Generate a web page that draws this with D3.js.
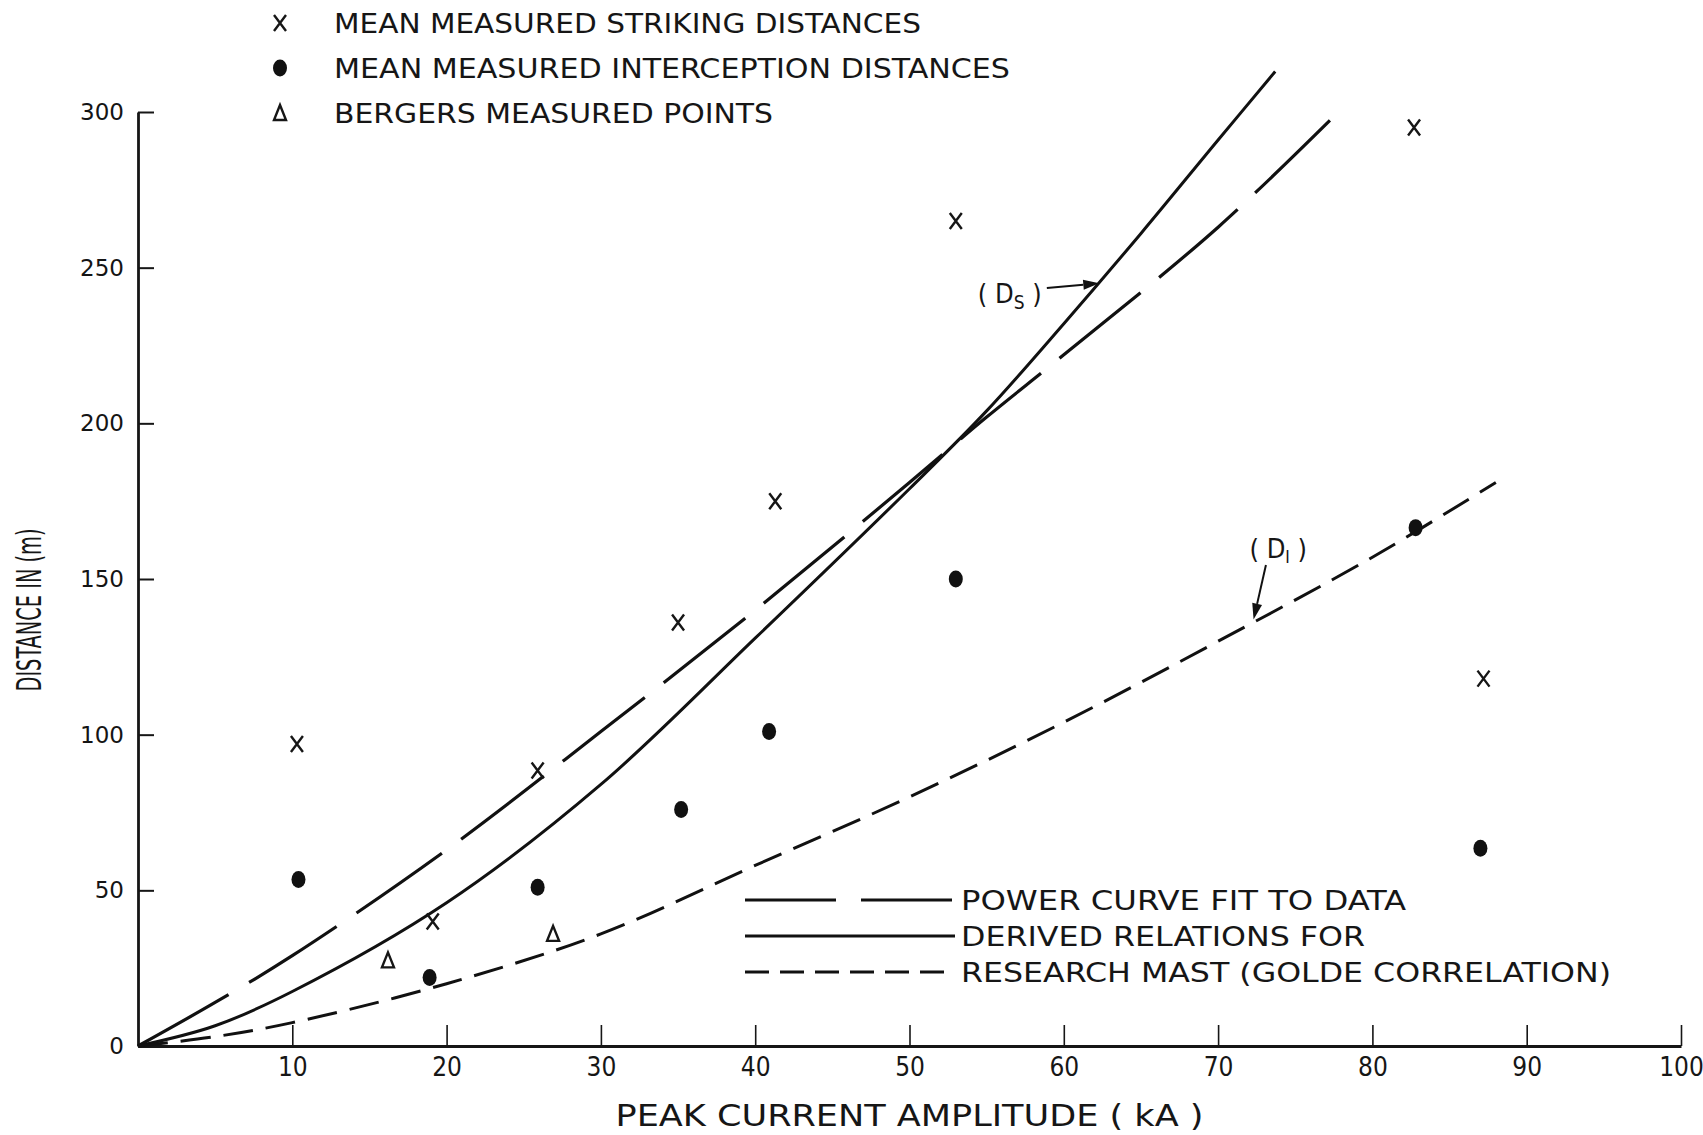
<!DOCTYPE html>
<html>
<head>
<meta charset="utf-8">
<script src="https://cdn.jsdelivr.net/npm/d3@7"></script>
<style>
  body { margin: 0; background: #fff; }
  svg { display: block; background: #fff; }
  .letter { font-family: "DejaVu Sans Condensed", "Liberation Sans Narrow", "DejaVu Sans", sans-serif; fill: #161616; }
  .axis path, .axis line { stroke: #161616; }
</style>
</head>
<body>
<svg width="1703" height="1135"></svg>
<script>
// tick values
var xTicks = [10, 20, 30, 40, 50, 60, 70, 80, 90, 100];
var yTicks = [0, 50, 100, 150, 200, 250, 300];

// mean measured striking distances (x)
var strikeKA = [10.3, 19.1, 25.9, 35.0, 41.3, 53.0, 82.7, 87.2];
var strikeM  = [97, 40, 88.5, 136, 175, 265, 295, 118];

// mean measured interception distances (dots)
var interKA = [10.4, 18.9, 25.9, 35.2, 40.9, 53.0, 82.8, 87.0];
var interM  = [53.5, 22, 51, 76, 101, 150, 166.5, 63.5];

// Bergers measured points (triangles)
var bergerKA = [16.2, 26.9];
var bergerM  = [27.5, 36];

// power curve fit to data (long dash)
var fitKA = [0, 5, 10, 20, 30, 40, 50, 55, 60, 70, 78];
var fitM  = [0, 14, 29, 63, 101, 140, 181, 202, 222, 263, 301];

// derived relation Ds (solid)
var dsKA = [0, 5, 10, 20, 30, 40, 50, 55, 60, 65, 70, 73.7];
var dsM  = [0, 6.5, 17.5, 46, 84, 131, 179, 204, 232, 261, 291, 313];

// research mast, Golde correlation DI (short dash)
var diKA = [0, 5, 10, 20, 30, 40, 50, 60, 70, 80, 88];
var diM  = [0, 3, 7.5, 20, 36, 58, 80, 104, 130, 157, 181];

var svg = d3.select("svg"),
    margin = {top: 112, right: 22, bottom: 89, left: 138},
    width = +svg.attr("width") - margin.left - margin.right,
    height = +svg.attr("height") - margin.top - margin.bottom;

var x = d3.scaleLinear().domain([0, 100]).range([0, width]),
    y = d3.scaleLinear().domain([0, 300]).range([height, 0]);

var g = svg.append("g")
    .attr("transform", "translate(" + margin.left + "," + margin.top + ")");

function pts(a, b) { return a.map(function(v, i) { return [v, b[i]]; }); }

// axes
var yAxis = g.append("g")
    .attr("class", "axis")
    .call(d3.axisLeft(y).tickValues(yTicks).tickSizeInner(-16).tickSizeOuter(0).tickPadding(14));
yAxis.select(".domain").attr("stroke-width", 2.8);
yAxis.selectAll(".tick line").attr("stroke-width", 2);
yAxis.selectAll(".tick text")
    .style("font-family", "'DejaVu Sans', sans-serif")
    .style("font-size", "23px")
    .attr("fill", "#141414");

var xAxis = g.append("g")
    .attr("class", "axis")
    .attr("transform", "translate(0," + height + ")")
    .call(d3.axisBottom(x).tickValues(xTicks).tickSizeInner(-21).tickSizeOuter(0).tickPadding(12));
xAxis.select(".domain").attr("stroke-width", 3);
xAxis.selectAll(".tick line").attr("stroke-width", 1.6);
xAxis.selectAll(".tick text")
    .attr("class", "letter")
    .style("font-size", "26px")
    .attr("fill", "#161616");

// curves
var line = d3.line()
    .x(function(d) { return x(d[0]); })
    .y(function(d) { return y(d[1]); })
    .curve(d3.curveCatmullRom.alpha(0.5));

g.append("path").datum(pts(fitKA, fitM))
    .attr("fill", "none").attr("stroke", "#111").attr("stroke-width", 3.2)
    .attr("stroke-dasharray", "104,24")
    .attr("d", line);

g.append("path").datum(pts(dsKA, dsM))
    .attr("fill", "none").attr("stroke", "#111").attr("stroke-width", 3)
    .attr("d", line);

g.append("path").datum(pts(diKA, diM))
    .attr("fill", "none").attr("stroke", "#111").attr("stroke-width", 3)
    .attr("stroke-dasharray", "30,13")
    .attr("d", line);

// markers
function cross(sel, cx, cy) {
  sel.append("path")
    .attr("d", "M" + (cx - 6) + "," + (cy - 8) + "L" + (cx + 6) + "," + (cy + 8) +
               "M" + (cx + 6) + "," + (cy - 8) + "L" + (cx - 6) + "," + (cy + 8))
    .attr("stroke", "#161616").attr("stroke-width", 2.4).attr("fill", "none");
}
function dot(sel, cx, cy) {
  sel.append("ellipse").attr("cx", cx).attr("cy", cy).attr("rx", 7).attr("ry", 8.5)
    .attr("fill", "#111");
}
function tri(sel, cx, cy) {
  sel.append("path")
    .attr("d", "M" + cx + "," + (cy - 8) + "L" + (cx + 6) + "," + (cy + 7) + "L" + (cx - 6) + "," + (cy + 7) + "Z")
    .attr("stroke", "#161616").attr("stroke-width", 2.4).attr("fill", "none");
}

strikeKA.forEach(function(v, i) { cross(g, x(v), y(strikeM[i])); });
interKA.forEach(function(v, i) { dot(g, x(v), y(interM[i])); });
bergerKA.forEach(function(v, i) { tri(g, x(v), y(bergerM[i])); });

// curve labels with arrows
function arrow(x1, y1, x2, y2) {
  var ang = Math.atan2(y2 - y1, x2 - x1), L = 16, W = 5;
  var bx = x2 - L * Math.cos(ang), by = y2 - L * Math.sin(ang);
  g.append("line").attr("x1", x1).attr("y1", y1).attr("x2", bx).attr("y2", by)
    .attr("stroke", "#111").attr("stroke-width", 2);
  g.append("path")
    .attr("d", "M" + x2 + "," + y2 +
      "L" + (bx + W * Math.sin(ang)) + "," + (by - W * Math.cos(ang)) +
      "L" + (bx - W * Math.sin(ang)) + "," + (by + W * Math.cos(ang)) + "Z")
    .attr("fill", "#111");
}

var dsLab = g.append("text").attr("class", "letter")
    .attr("x", x(56.5)).attr("y", y(241.7) + 9)
    .attr("text-anchor", "middle").style("font-size", "27px");
dsLab.append("tspan").text("( D");
dsLab.append("tspan").attr("dy", 6).style("font-size", "19px").text("S");
dsLab.append("tspan").attr("dy", -6).text(" )");
arrow(x(58.9), y(243.5), x(62.3), y(245));

var diLab = g.append("text").attr("class", "letter")
    .attr("x", x(73.9)).attr("y", y(159.7) + 9)
    .attr("text-anchor", "middle").style("font-size", "27px");
diLab.append("tspan").text("( D");
diLab.append("tspan").attr("dy", 5).style("font-size", "17px").text("I");
diLab.append("tspan").attr("dy", -5).text(" )");
arrow(x(73.1), y(154.5), x(72.3), y(137));

// axis titles
svg.append("text").attr("class", "letter")
    .attr("x", margin.left + width / 2).attr("y", 1126)
    .attr("text-anchor", "middle")
    .style("font-size", "31px")
    .attr("textLength", 588).attr("lengthAdjust", "spacingAndGlyphs")
    .text("PEAK CURRENT AMPLITUDE ( kA )");

svg.append("text").attr("class", "letter")
    .attr("transform", "translate(41,610) rotate(-90)")
    .attr("text-anchor", "middle")
    .style("font-size", "33px")
    .attr("textLength", 163).attr("lengthAdjust", "spacingAndGlyphs")
    .text("DISTANCE IN (m)");

// marker legend (top)
var mkLegend = [
  {label: "MEAN MEASURED STRIKING DISTANCES", w: 587, draw: cross},
  {label: "MEAN MEASURED INTERCEPTION DISTANCES", w: 676, draw: dot},
  {label: "BERGERS MEASURED POINTS", w: 439, draw: tri}
];
mkLegend.forEach(function(d, i) {
  var cy = 23 + i * 45;
  d.draw(svg, 280, cy);
  svg.append("text").attr("class", "letter")
    .attr("x", 334).attr("y", cy + 10)
    .style("font-size", "27px")
    .attr("textLength", d.w).attr("lengthAdjust", "spacingAndGlyphs")
    .text(d.label);
});

// line legend
var lnLegend = [
  {label: "POWER CURVE FIT TO DATA", w: 445, dash: "91,25"},
  {label: "DERIVED RELATIONS FOR", w: 404, dash: null},
  {label: "RESEARCH MAST (GOLDE CORRELATION)", w: 650, dash: "24,11"}
];
lnLegend.forEach(function(d, i) {
  var cy = 900 + i * 36;
  svg.append("line").attr("x1", 745).attr("x2", 955).attr("y1", cy).attr("y2", cy)
    .attr("stroke", "#111").attr("stroke-width", 3)
    .attr("stroke-dasharray", d.dash);
  svg.append("text").attr("class", "letter")
    .attr("x", 961).attr("y", cy + 10)
    .style("font-size", "27px")
    .attr("textLength", d.w).attr("lengthAdjust", "spacingAndGlyphs")
    .text(d.label);
});
</script>
</body>
</html>
